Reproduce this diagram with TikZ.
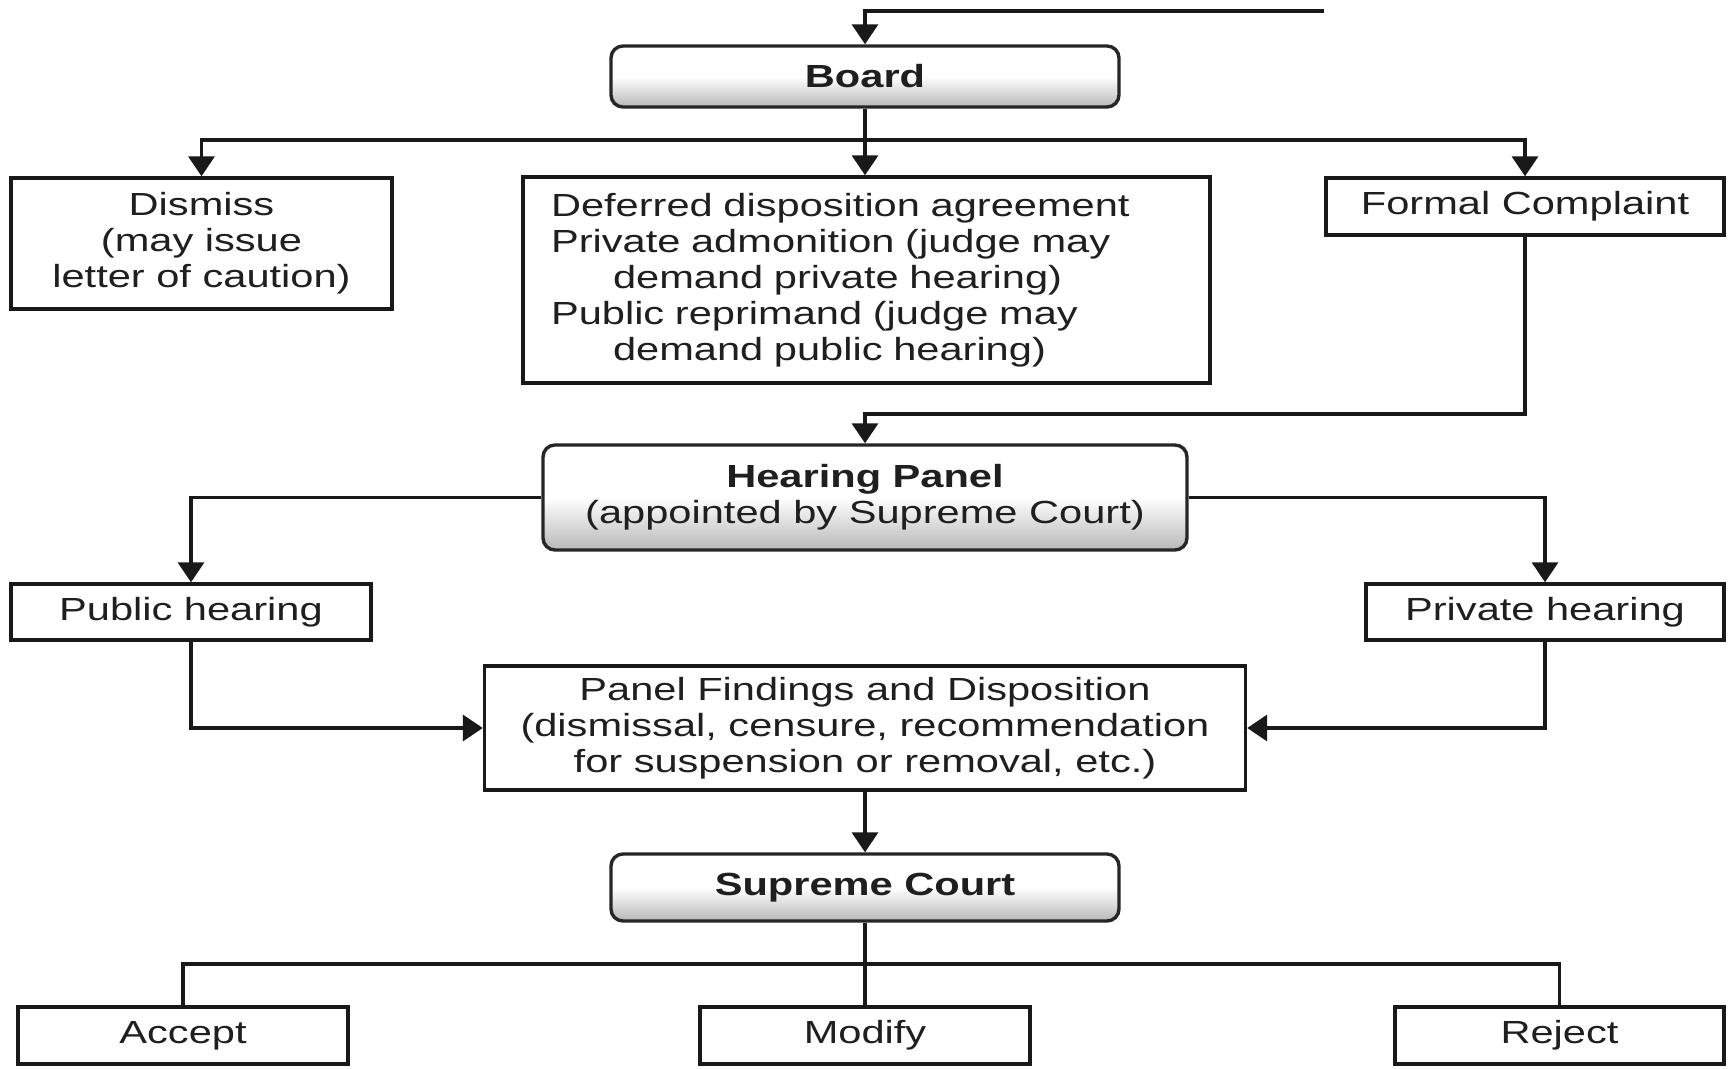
\documentclass[tikz,border=0pt]{standalone}
\usepackage{fontspec}
\setmainfont[FakeStretch=1.3]{Liberation Sans}
\usetikzlibrary{arrows.meta}
\begin{document}
\begin{tikzpicture}[x=0.5pt,y=-0.5pt,
  txt/.style={font=\fontsize{16pt}{18pt}\selectfont, text=black!88},
  sqbox/.style={txt, draw=black!90, line width=1.7pt, fill=white, inner sep=0pt, align=center},
  rbox/.style={txt, draw=black!85, line width=1.7pt, rounded corners=6pt, inner sep=0pt, align=center,
     top color=white, bottom color=black!28, middle color=white},
  conn/.style={line width=1.7pt, draw=black!90},
  arr/.style={conn, -{Triangle[length=10pt,width=13pt]}}
]
\useasboundingbox (0,0) rectangle (1733,1069);
\fill[white] (0,0) rectangle (1733,1069);

% nodes
\node[rbox, minimum width=254pt, minimum height=30.5pt] (board) at (865,76.5) {\textbf{Board}};
\node[sqbox, minimum width=190.5pt, minimum height=65.5pt] (dismiss) at (201.5,243.5)
  {Dismiss\\(may issue\\letter of caution)};
\node[sqbox, minimum width=343.5pt, minimum height=103pt, text width=315.5pt, inner xsep=14pt, align=left] (middle) at (866.5,280)
  {Deferred disposition agreement\\
   Private admonition (judge may\\
   \hspace*{31pt}demand private hearing)\\
   Public reprimand (judge may\\
   \hspace*{31pt}demand public hearing)};
\node[sqbox, minimum width=199pt, minimum height=28.5pt] (formal) at (1525,206.5) {Formal Complaint};
\node[rbox, minimum width=322pt, minimum height=52.5pt] (hp) at (865,497.5)
  {\textbf{Hearing Panel}\\(appointed by Supreme Court)};
\node[sqbox, minimum width=180pt, minimum height=28pt] (public) at (191,612) {Public hearing};
\node[sqbox, minimum width=179pt, minimum height=28pt] (private) at (1545,612) {Private hearing};
\node[sqbox, minimum width=380.5pt, minimum height=62pt] (pf) at (865,728)
  {Panel Findings and Disposition\\(dismissal, censure, recommendation\\for suspension or removal, etc.)};
\node[rbox, minimum width=254pt, minimum height=33.5pt] (sc) at (865,887.5) {\textbf{Supreme Court}};
\node[sqbox, minimum width=165pt, minimum height=28.5pt] (accept) at (183,1035.5) {Accept};
\node[sqbox, minimum width=165pt, minimum height=28.5pt] (modify) at (865,1035.5) {Modify};
\node[sqbox, minimum width=164.5pt, minimum height=28.5pt] (reject) at (1559.5,1035.5) {Reject};

% helper coordinates
\coordinate (topin) at (1324,11);
\coordinate (bb) at (865,140);
\coordinate (fh) at (865,414);
\coordinate (sb) at (865,964);

% connectors
\draw[arr] (topin) -| (board.north);
\draw[arr] (board.south) -- (bb) -- (middle.north -| bb);
\draw[arr] (bb) -| (dismiss.north);
\draw[arr] (bb) -| (formal.north);
\draw[arr] (formal.south) |- (fh) -- (hp.north);
\draw[arr] (hp.west) -| (public.north);
\draw[arr] (hp.east) -| (private.north);
\draw[arr] (public.south) |- (pf.west);
\draw[arr] (private.south) |- (pf.east);
\draw[arr] (pf.south) -- (sc.north);
\draw[conn] (sc.south) -- (modify.north);
\draw[conn] (accept.north) |- (sb) -| (reject.north);
\end{tikzpicture}
\end{document}
